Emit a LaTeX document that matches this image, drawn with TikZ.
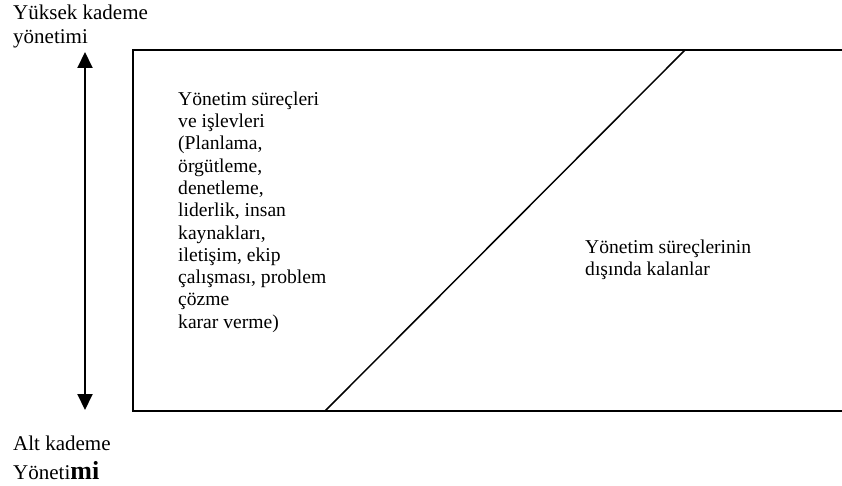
\documentclass[tikz,border=0pt]{standalone}
\usepackage{fontspec}
\setmainfont{Liberation Serif}
\usetikzlibrary{arrows.meta}
\begin{document}
\begin{tikzpicture}[x=1pt,y=-1pt,
  lbl/.style={inner sep=0pt, anchor=base west, font=\fontsize{21}{24}\selectfont},
  blk/.style={inner sep=0pt, anchor=north west, align=left, font=\fontsize{19.6}{22.3}\selectfont},
  frame/.style={line width=2pt, line join=miter},
  diag/.style={line width=1.5pt},
  updown/.style={line width=2pt, {Triangle[length=16pt,width=15pt]}-{Triangle[length=16pt,width=15pt]}}]
\useasboundingbox (0,0) rectangle (842,486);
\coordinate (tl) at (133,50);
\coordinate (tr) at (842,50);
\coordinate (bl) at (133,411);
\coordinate (br) at (842,411);
\coordinate (dtop) at (685,50);
\coordinate (dbot) at (325,411);
\draw[frame] (tr) -- (tl) -- (bl) -- (br);
\draw[diag] (dbot) -- (dtop);
\coordinate (atop) at (85,52);
\coordinate (abot) at (85,410);
\draw[updown] (atop) -- (abot);
\node[lbl] (top1) at (13,20) {Yüksek kademe};
\node[lbl] (top2) at (13,44) {yönetimi};
\node[lbl] (bot1) at (13,450) {Alt kademe};
\node[lbl] (bot2) at (13,479) {Yöneti{\bfseries\fontsize{26}{29}\selectfont mi}};
\node[blk] (inner) at (178,87) {\rule{0pt}{18pt}Yönetim süreçleri\\ve işlevleri\\(Planlama,\\örgütleme,\\denetleme,\\liderlik, insan\\kaynakları,\\iletişim, ekip\\çalışması, problem\\çözme\\karar verme)};
\node[blk] (outer) at (585,235) {\rule{0pt}{18pt}Yönetim süreçlerinin\\dışında kalanlar};
\end{tikzpicture}
\end{document}
